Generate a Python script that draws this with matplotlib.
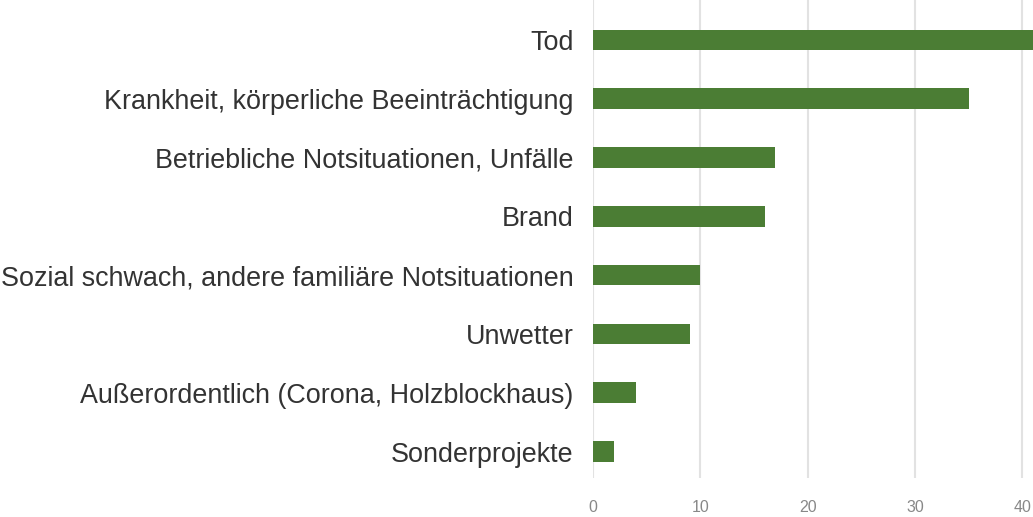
import matplotlib.pyplot as plt

categories = [
    "Tod",
    "Krankheit, körperliche Beeinträchtigung",
    "Betriebliche Notsituationen, Unfälle",
    "Brand",
    "Sozial schwach, andere familiäre Notsituationen",
    "Unwetter",
    "Außerordentlich (Corona, Holzblockhaus)",
    "Sonderprojekte",
]
values = [41, 35, 17, 16, 10, 9, 4, 2]
xticks = [0, 10, 20, 30, 40]

plt.rcParams['font.family'] = ['Liberation Sans', 'DejaVu Sans']

fig = plt.figure(figsize=(10.33, 5.17), dpi=100)
ax = fig.add_axes([593 / 1033, 39 / 517, 1 - 593 / 1033, 1 - 39 / 517])

pos = list(range(len(categories)))
ax.barh(pos, values, height=0.35, color='#4b7d34', zorder=3)

ax.set_yticks(pos)
ax.set_yticklabels(categories, fontsize=19.4, color='#333333')
ax.set_ylim(7.45, -0.68)
ax.set_xlim(0, 41)
ax.set_xticks(xticks)
ax.set_xticklabels([str(t) for t in xticks], fontsize=11.5, color='#888888')
ax.tick_params(axis='both', length=0)
ax.tick_params(axis='y', pad=14)
ax.tick_params(axis='x', pad=16)
ax.grid(axis='x', color='#e2e2e2', linewidth=1.5, zorder=0)
for s in ax.spines.values():
    s.set_visible(False)

fig.savefig('out.png', dpi=100)
